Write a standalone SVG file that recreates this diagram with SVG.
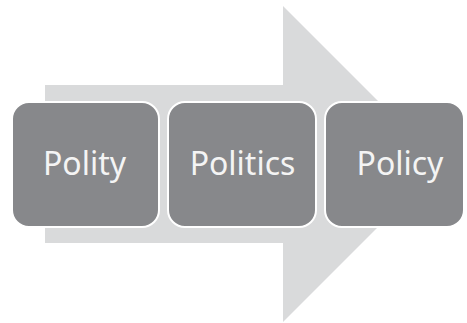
<svg xmlns="http://www.w3.org/2000/svg" width="467" height="323" viewBox="0 0 467 323">
<style>
.box{fill:#87888b;stroke:#ffffff;stroke-width:2}
.lbl{font-family:"Noto Sans","Open Sans",sans-serif;font-size:32px;fill:#f4f4f4;text-anchor:middle}
</style>
<rect width="467" height="323" fill="#ffffff"/>
<g id="arrow">
<polygon points="45,85 283,85 283,6 441,164 283,322 283,243 45,243" fill="#d9dadb"/>
</g>
<g id="polity">
<rect class="box" x="12" y="102" width="147" height="125" rx="17"/>
<text class="lbl" x="84.5" y="175">Polity</text>
</g>
<g id="politics">
<rect class="box" x="168" y="102" width="148" height="125" rx="17"/>
<text class="lbl" x="242.5" y="175">Politics</text>
</g>
<g id="policy">
<rect class="box" x="325" y="102" width="139" height="125" rx="17"/>
<text class="lbl" x="400" y="175">Policy</text>
</g>
</svg>
